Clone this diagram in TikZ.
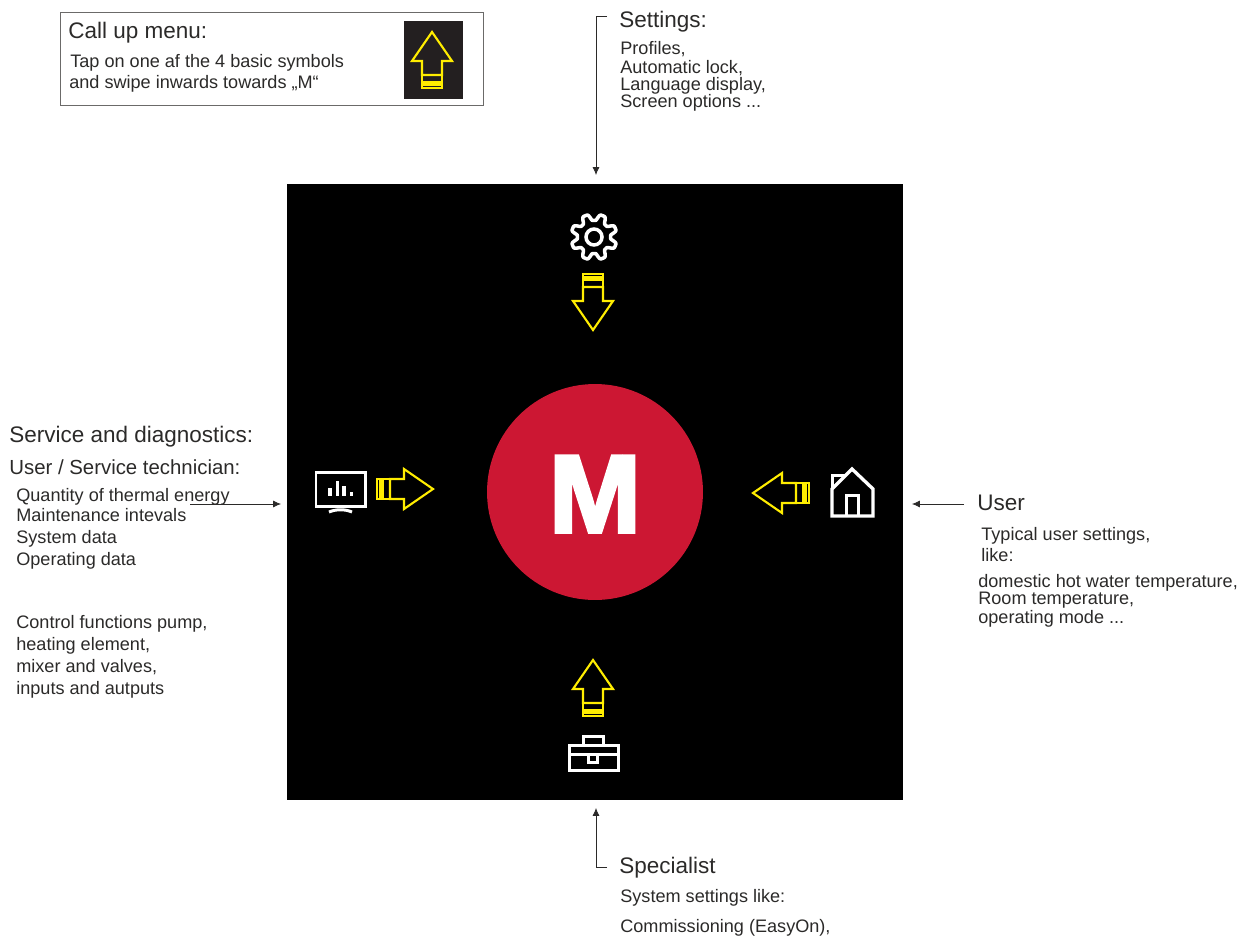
\documentclass[tikz,border=0pt]{standalone}
\usepackage{fontspec}
\setmainfont{Liberation Sans}
\newfontfamily\heavyfont{Liberation Sans Bold}[FakeBold=3]
\usetikzlibrary{%
  arrows.meta
}

\definecolor{swipeyellow}{HTML}{FFED00}
\definecolor{menured}{HTML}{CC1733}
\definecolor{textgrey}{HTML}{2B2A29}
\definecolor{boxgrey}{HTML}{231F20}

\tikzset{
  big/.style={anchor=base west, inner sep=0pt, text=textgrey, font=\fontsize{12.8}{14}\selectfont},
  small/.style={anchor=base west, inner sep=0pt, text=textgrey, font=\fontsize{10.3}{12}\selectfont},
  pointer/.style={draw=textgrey, line width=0.4pt, -{Latex[length=4.5pt,width=4pt]}},
  icon/.style={draw=white, line width=1.7pt},
  swipe/.pic={
    \draw[swipeyellow, line width=1.2pt, line join=miter]
      (0,0) -- (20,29) -- (10,29) -- (10,43) -- (-10,43) -- (-10,29) -- (-20,29) -- cycle;
    \draw[swipeyellow, line width=1.2pt] (-10,43) rectangle (10,50);
    \draw[swipeyellow, line width=1.2pt] (-10,51.5) rectangle (10,56);
    \draw[swipeyellow, line width=0.4pt] (-9,53.7) -- (9,53.7);
  }
}

\begin{document}
\begin{tikzpicture}[x=0.02cm, y=-0.02cm]

  \useasboundingbox (0,0) rectangle (1239,936);

  % panel
  \fill[black] (287,184) rectangle (903,800);
  \node[circle, fill=menured, minimum size=4.32cm, inner sep=0pt] (circM) at (595,492) {};
  \node[inner sep=0pt, text=white, font=\fontsize{63}{63}\heavyfont] (letM) at (595,494) {M};

  % call up box
  \draw[draw=textgrey!70, line width=0.4pt] (60,12) rectangle (483,105);
  \fill[boxgrey] (404,21) rectangle (463,99);
  \pic at (432,32) {swipe};
  \node[big] (txtMenu) at (68,39) {Call up menu:};
  \node[small] (txtTap) at (70,68) {Tap on one af the 4 basic symbols};
  \node[small] (txtSwipe) at (69,89) {and swipe inwards towards „M“};

  % swipe arrows
  \pic[rotate=180] at (593,330) {swipe};
  \pic at (593,660) {swipe};
  \pic[rotate=-90] at (433,489) {swipe};
  \pic[rotate=90] at (753,493) {swipe};

  % gear
  \draw[icon, line width=2pt, line join=round] plot[samples=129, domain=0:360]
    ({594+(19.8+3.2*max(-1,min(1,1.7*cos(8*\x))))*cos(\x+22.5)}, {237+(19.8+3.2*max(-1,min(1,1.7*cos(8*\x))))*sin(\x+22.5)}) -- cycle;
  \draw[icon, line width=2pt] (594,237) circle (8);

  % monitor
  \draw[icon] (316,472) rectangle (365,506);
  \fill[white] (328,488) rectangle (332,496);
  \fill[white] (336,481) rectangle (339,496);
  \fill[white] (342,486) rectangle (346,496);
  \fill[white] (350,492) rectangle (353,496);
  \draw[icon] (329,512) .. controls (336,509) and (345,509) .. (352,512);

  % house
  \draw[icon, line width=1.9pt, line join=miter] (832,489) -- (852,469) -- (873,489) -- (873,516) -- (832,516) -- cycle;
  \draw[icon] (832,489) -- (832,475) -- (846,475);
  \draw[icon] (846,516) -- (846,495) -- (858,495) -- (858,516);

  % toolbox
  \draw[icon] (569,745) rectangle (618,770);
  \draw[icon] (569,754) -- (588,754);
  \draw[icon] (597,754) -- (618,754);
  \draw[icon] (583,745) -- (583,736) -- (603,736) -- (603,745);
  \draw[icon] (588,754) rectangle (597,762);

  % settings
  \coordinate (setStart) at (607,16);
  \coordinate (setEnd) at (596,175);
  \draw[pointer] (setStart) -| (setEnd);
  \node[big] (txtSettings) at (619,28) {Settings:};
  \node[small] (txtProfiles) at (620,55) {Profiles,};
  \node[small] (txtLock) at (620,73) {Automatic lock,};
  \node[small] (txtLanguage) at (620,91) {Language display,};
  \node[small] (txtScreen) at (620,108) {Screen options ...};

  % service
  \coordinate (srvStart) at (190,504);
  \coordinate (srvEnd) at (281,504);
  \node[big] (txtService) at (9,442) {Service and diagnostics:};
  \node[small, font=\fontsize{11.6}{13}\selectfont] (txtTech) at (9,474) {User / Service technician:};
  \node[small] (txtThermal) at (16,501) {Quantity of thermal energy};
  \node[small] (txtMaint) at (16,521) {Maintenance intevals};
  \node[small] (txtSystem) at (16,543) {System data};
  \node[small] (txtOperating) at (16,565) {Operating data};
  \node[small] (txtControl) at (16,628) {Control functions pump,};
  \node[small] (txtHeating) at (16,650) {heating element,};
  \node[small] (txtMixer) at (16,672) {mixer and valves,};
  \node[small] (txtInputs) at (16,694) {inputs and autputs};
  \draw[pointer] (srvStart) -- (srvEnd);

  % user
  \coordinate (usrStart) at (964,504);
  \coordinate (usrEnd) at (912,504);
  \draw[pointer] (usrStart) -- (usrEnd);
  \node[big] (txtUser) at (977,510) {User};
  \node[small] (txtTypical) at (981,540) {Typical user settings,};
  \node[small] (txtLike) at (981,561) {like:};
  \node[small] (txtHot) at (978,587) {domestic hot water temperature,};
  \node[small] (txtRoom) at (978,604) {Room temperature,};
  \node[small] (txtMode) at (978,623) {operating mode ...};

  % specialist
  \coordinate (speStart) at (607,867);
  \coordinate (speEnd) at (596,808);
  \draw[pointer] (speStart) -| (speEnd);
  \node[big] (txtSpecialist) at (619,873) {Specialist};
  \node[small] (txtLikeSys) at (620,902) {System settings like:};
  \node[small] (txtComm) at (620,932) {Commissioning (EasyOn),};

\end{tikzpicture}
\end{document}
